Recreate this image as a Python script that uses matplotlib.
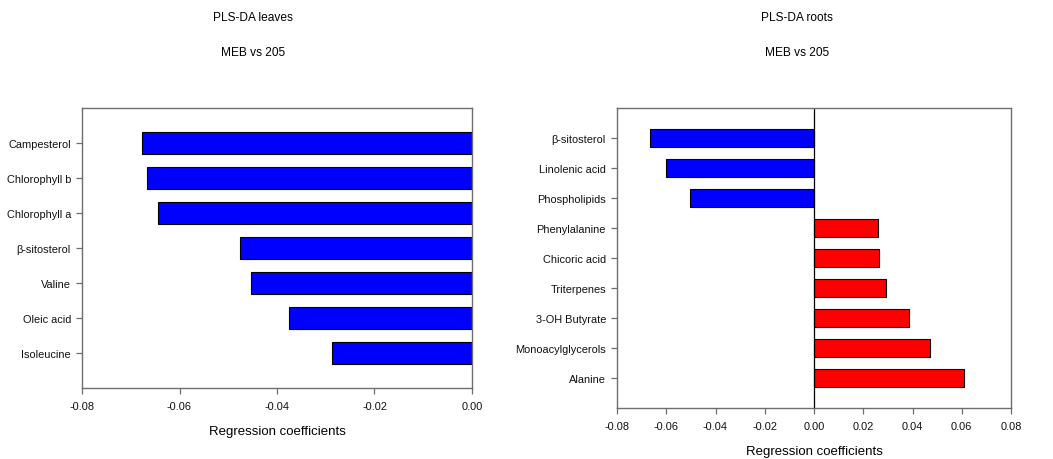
import matplotlib
matplotlib.use("Agg")
import matplotlib.pyplot as plt

plt.rcParams['font.family'] = ['Liberation Sans', 'DejaVu Sans']

# leaves: top to bottom
leaf_names = ['Campesterol', 'Chlorophyll b', 'Chlorophyll a', 'β-sitosterol',
              'Valine', 'Oleic acid', 'Isoleucine']
leaf_coef = [-0.0676, -0.0666, -0.0644, -0.0476, -0.0454, -0.0375, -0.0287]

# roots: top to bottom
root_names = ['β-sitosterol', 'Linolenic acid', 'Phospholipids', 'Phenylalanine',
              'Chicoric acid', 'Triterpenes', '3-OH Butyrate', 'Monoacylglycerols',
              'Alanine']
root_coef = [-0.0667, -0.0600, -0.0502, 0.0260, 0.0265, 0.0291, 0.0386, 0.0470, 0.0610]

leaf_ticks = [-0.08, -0.06, -0.04, -0.02, 0.00]
root_ticks = [-0.08, -0.06, -0.04, -0.02, 0.00, 0.02, 0.04, 0.06, 0.08]

W, H = 1053, 460
fig = plt.figure(figsize=(W / 100, H / 100), dpi=100)

frame = '#6e6e6e'


def style(ax):
    for s in ax.spines.values():
        s.set_color(frame)
        s.set_linewidth(1.0)
    ax.tick_params(axis='both', colors=frame, labelcolor='#111111', labelsize=7.9,
                   length=4, width=0.9, direction='out')
    ax.tick_params(axis='x', pad=5.5)
    ax.tick_params(axis='y', pad=4)


# left panel
ax1 = fig.add_axes([82 / W, 1 - 389 / H, 390 / W, 280 / H])
y1 = list(range(len(leaf_names)))
ax1.barh(y1, leaf_coef, height=0.62, color='#0000ff', edgecolor='black', linewidth=0.8)
ax1.set_ylim(len(leaf_names), -1)
ax1.set_xlim(-0.08, 0.0)
ax1.set_yticks(y1)
ax1.set_yticklabels(leaf_names)
ax1.set_xticks(leaf_ticks)
ax1.set_xticklabels(['%.2f' % t for t in leaf_ticks])
ax1.set_xlabel('Regression coefficients', fontsize=9.5, labelpad=10)
style(ax1)

# right panel
ax2 = fig.add_axes([617 / W, 1 - 409.3 / H, 394 / W, 300 / H])
y2 = list(range(len(root_names)))
colors = ['#0000ff' if v < 0 else '#ff0000' for v in root_coef]
ax2.barh(y2, root_coef, height=0.6, color=colors, edgecolor='black', linewidth=0.8)
ax2.axvline(0, color='black', linewidth=0.9)
ax2.set_ylim(len(root_names), -1)
ax2.set_xlim(-0.08, 0.08)
ax2.set_yticks(y2)
ax2.set_yticklabels(root_names)
ax2.set_xticks(root_ticks)
ax2.set_xticklabels(['%.2f' % t for t in root_ticks])
ax2.set_xlabel('Regression coefficients', fontsize=9.5, labelpad=10)
style(ax2)

# panel titles
fig.text(253 / W, 1 - 18 / H, 'PLS-DA leaves', ha='center', va='center', fontsize=8.6)
fig.text(253 / W, 1 - 53 / H, 'MEB vs 205', ha='center', va='center', fontsize=8.6)
fig.text(797 / W, 1 - 18 / H, 'PLS-DA roots', ha='center', va='center', fontsize=8.6)
fig.text(797 / W, 1 - 53 / H, 'MEB vs 205', ha='center', va='center', fontsize=8.6)

fig.savefig('out.png', dpi=100)
